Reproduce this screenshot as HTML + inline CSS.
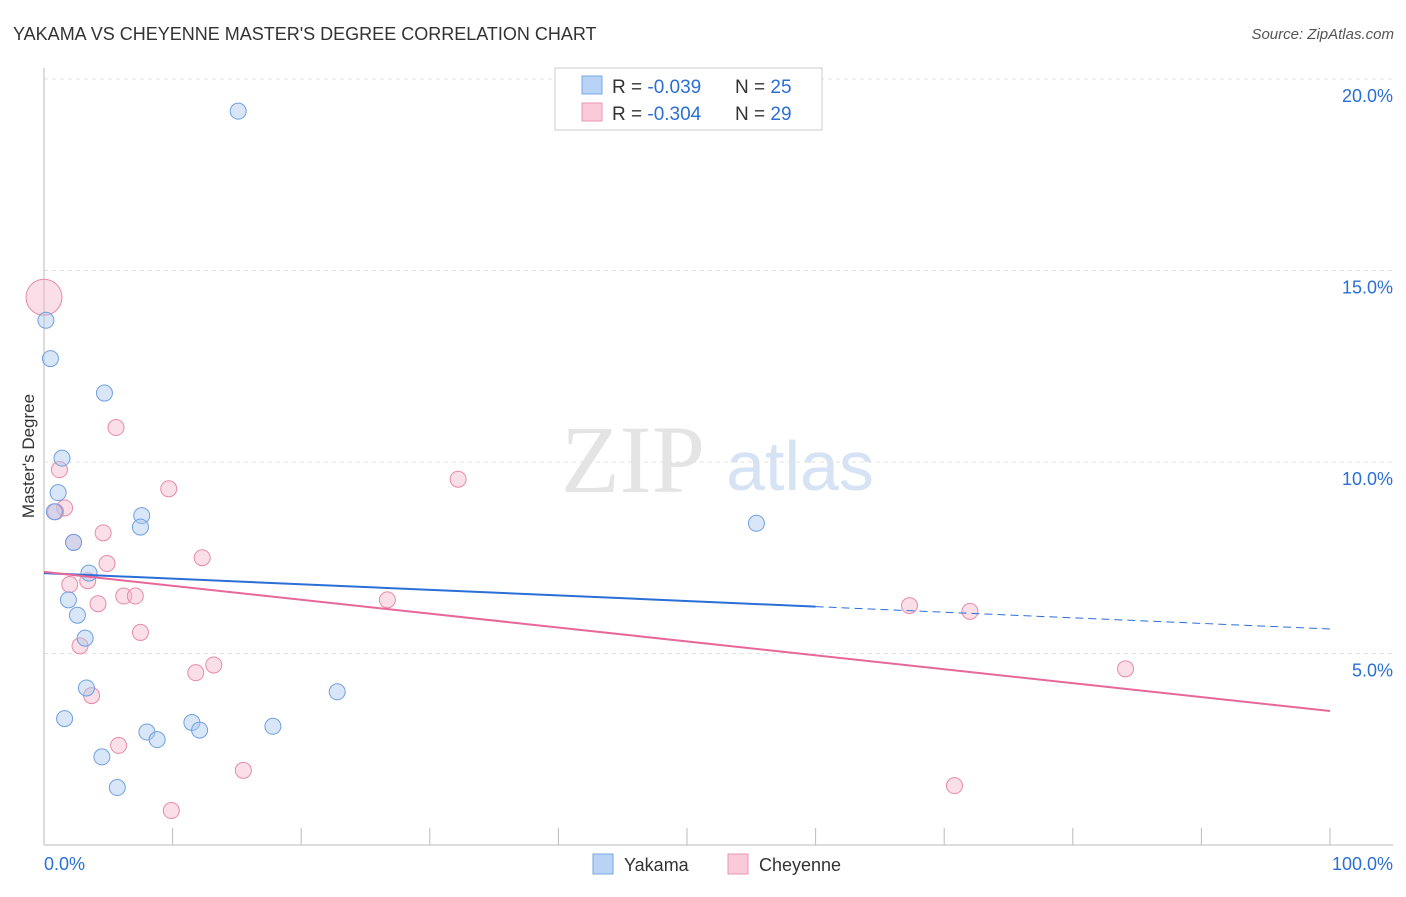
<!DOCTYPE html>
<html><head><meta charset="utf-8"><style>
body{margin:0;background:#fff;font-family:"Liberation Sans",sans-serif}
</style></head><body>
<svg id="c" width="1406" height="892" xmlns="http://www.w3.org/2000/svg" style="font-family:'Liberation Sans',sans-serif">
<text x="13" y="40" font-size="18" fill="#333">YAKAMA VS CHEYENNE MASTER'S DEGREE CORRELATION CHART</text>
<text x="1394" y="39" font-size="15" fill="#555" text-anchor="end" font-style="italic">Source: ZipAtlas.com</text>
<text x="633" y="492" font-size="96" fill="#e4e4e4" text-anchor="middle" font-family="Liberation Serif,serif">ZIP</text>
<text x="800" y="490" font-size="70" fill="#d5e3f5" text-anchor="middle">atlas</text>
<text x="34" y="456" font-size="17" fill="#333" text-anchor="middle" transform="rotate(-90 34 456)">Master's Degree</text>
<g id="grid"></g><g id="marks"></g>
<g>
<rect x="555" y="68" width="267" height="62" fill="#fff" stroke="#ccc"/>
<rect x="582" y="76" width="20" height="18" fill="#b8d3f5" stroke="#7aa7e2"/>
<rect x="582" y="103" width="20" height="18" fill="#fbcad8" stroke="#ea97b1"/>
<text x="612" y="93" font-size="19" fill="#333">R = <tspan fill="#2a6fd6">-0.039</tspan></text>
<text x="735" y="93" font-size="19" fill="#333">N = <tspan fill="#2a6fd6">25</tspan></text>
<text x="612" y="120" font-size="19" fill="#333">R = <tspan fill="#2a6fd6">-0.304</tspan></text>
<text x="735" y="120" font-size="19" fill="#333">N = <tspan fill="#2a6fd6">29</tspan></text>
</g>
<g>
<rect x="593" y="854" width="20" height="20" fill="#b8d3f5" stroke="#7aa7e2"/>
<text x="624" y="871" font-size="18" fill="#333">Yakama</text>
<rect x="728" y="854" width="20" height="20" fill="#fbcad8" stroke="#ea97b1"/>
<text x="759" y="871" font-size="18" fill="#333">Cheyenne</text>
</g>
</svg>
<script>
const yTicks=[5,10,15,20];
const yTickLabels=["5.0%","10.0%","15.0%","20.0%"];
const yakamaX=[15.1,0.15,0.5,4.7,1.4,1.1,0.8,7.6,7.5,2.3,3.5,1.9,2.6,3.2,3.3,1.6,8.0,8.8,11.5,12.1,17.8,22.8,4.5,5.7,55.4];
const yakamaY=[19.16,13.7,12.7,11.8,10.1,9.2,8.7,8.6,8.3,7.9,7.1,6.4,6.0,5.4,4.1,3.3,2.95,2.75,3.2,3.0,3.1,4.0,2.3,1.5,8.4];
const cheyX=[0,5.6,1.2,9.7,32.2,1.6,0.9,4.6,2.3,12.3,4.9,2.0,3.4,6.2,7.1,4.2,26.7,7.5,2.8,13.2,11.8,3.7,5.8,15.5,9.9,67.3,72.0,84.1,70.8];
const cheyY=[14.3,10.9,9.8,9.3,9.55,8.8,8.7,8.15,7.9,7.5,7.35,6.8,6.9,6.5,6.5,6.3,6.4,5.55,5.2,4.7,4.5,3.9,2.6,1.95,0.9,6.25,6.1,4.6,1.55];
const yakamaTrend=[7.1,5.64];
const cheyTrend=[7.13,3.5];
const NS="http://www.w3.org/2000/svg";
const X=v=>44+v*12.86, Y=v=>845-v*38.3;
function mk(t,a,p){const e=document.createElementNS(NS,t);for(const k in a)e.setAttribute(k,a[k]);p.appendChild(e);return e;}
const g=document.getElementById('grid'),m=document.getElementById('marks');
yTicks.forEach((t,i)=>{
 const l=mk('line',{x1:44,x2:1393,y1:Y(t),y2:Y(t),stroke:'#e2e2e2','stroke-dasharray':'4,4'},g);
 
 
 const tx=mk('text',{x:1393,y:Y(t)+23,'font-size':18,fill:'#2a6fd6','text-anchor':'end'},g);tx.textContent=yTickLabels[i];
 
 
});
mk('line',{x1:44,x2:44,y1:68,y2:845,stroke:'#bbb'},g);
mk('line',{x1:44,x2:1393,y1:845,y2:845,stroke:'#bbb'},g);
for(let i=0;i<=10;i++){const t=mk('line',{x1:X(i*10),x2:X(i*10),y1:828,y2:845,stroke:'#bbb'},g);
 
 }
const a=mk('text',{x:44,y:870,'font-size':18,fill:'#2a6fd6'},g);a.textContent='0.0%';


const b=mk('text',{x:1393,y:870,'font-size':18,fill:'#2a6fd6','text-anchor':'end'},g);b.textContent='100.0%';


cheyX.forEach((x,i)=>{const c=mk('circle',{cx:X(x),cy:Y(cheyY[i]),r:i==0?18:8,fill:'#f5b8cb','fill-opacity':0.45,stroke:'#e88aa8','stroke-width':1},m);
 
 });
yakamaX.forEach((x,i)=>{const c=mk('circle',{cx:X(x),cy:Y(yakamaY[i]),r:8,fill:'#a9c8f0','fill-opacity':0.45,stroke:'#6fa0e0','stroke-width':1},m);
 
 });
const yl=v=>yakamaTrend[0]+(yakamaTrend[1]-yakamaTrend[0])*v/100;
const l1=mk('line',{x1:X(0),y1:Y(yl(0)),x2:X(60),y2:Y(yl(60)),stroke:'#2a6fd6','stroke-width':2},m);


const l2=mk('line',{x1:X(60),y1:Y(yl(60)),x2:X(100),y2:Y(yl(100)),stroke:'#2a6fd6','stroke-width':1,'stroke-dasharray':'8,5'},m);


const l3=mk('line',{x1:X(0),y1:Y(cheyTrend[0]),x2:X(100),y2:Y(cheyTrend[1]),stroke:'#e8679a','stroke-width':2},m);


</script>
</body></html>
